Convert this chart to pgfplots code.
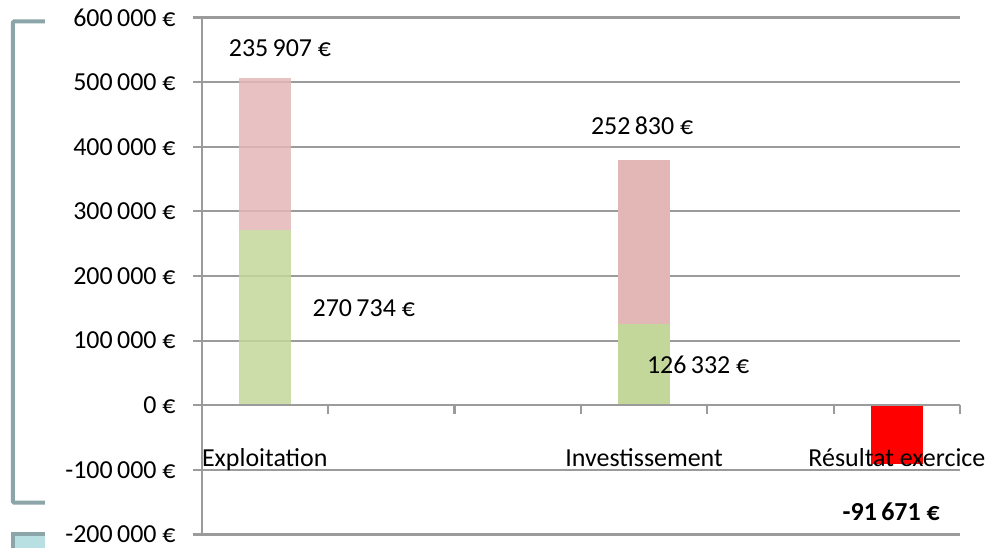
\documentclass[border=0pt]{standalone}
\usepackage{fontspec}
\setmainfont{Carlito}
\usepackage{pgfplots}
\pgfplotsset{compat=1.18}
\definecolor{grn}{RGB}{196,215,155}
\definecolor{pnk}{RGB}{228,183,183}
\definecolor{gridgray}{RGB}{155,155,155}
\definecolor{bracketc}{RGB}{139,165,168}
\definecolor{cyanc}{RGB}{184,224,226}
\begin{document}
\fontsize{13bp}{15bp}\selectfont
\begin{tikzpicture}
\draw[bracketc, line width=2bp, rounded corners=0.5bp] (-78.5bp,257bp) -- (-94.5bp,257bp) -- (-94.5bp,16bp) -- (-78.5bp,16bp);
\fill[cyanc] (-94.5bp,-7bp) rectangle (-78.5bp,0bp);
\draw[bracketc, line width=2bp] (-94.5bp,-7bp) -- (-94.5bp,0bp) -- (-78.5bp,0bp);
\begin{axis}[
  set layers=standard,
  at={(0,0)}, anchor=south west,
  scale only axis, width=380bp, height=259bp,
  xmin=-0.5, xmax=5.5, ymin=-200000, ymax=600000,
  axis x line=middle, axis y line=left,
  axis line style={-, draw=gridgray, line width=1.1bp},
  hide obscured x ticks=false, hide obscured y ticks=false,
  scaled y ticks=false,
  ybar stacked, bar width=26bp,
  tick align=outside, major tick length=4.5bp,
  tick style={draw=gridgray, line width=1.1bp},
  xtick={-0.5,0.5,1.5,2.5,3.5,4.5,5.5},
  xticklabels={},
  extra x ticks={0,3,5},
  extra x tick labels={Exploitation,Investissement,Résultat exercice},
  extra x tick style={major tick length=0pt, grid=none, xticklabel style={anchor=base, yshift=-30.75bp}},
  ytick={-200000,-100000,0,100000,200000,300000,400000,500000,600000},
  yticklabels={-200\,000 €,-100\,000 €,0 €,100\,000 €,200\,000 €,300\,000 €,400\,000 €,500\,000 €,600\,000 €},
  yticklabel style={xshift=-4bp},
  ymajorgrids, grid style={draw=gridgray, line width=1.1bp},
  clip=false,
]
\addplot[fill=grn, fill opacity=0.85, draw=none, on layer=axis grid] coordinates {(0,270734) (3,0) (5,0)};
\addplot[fill=grn, draw=none, on layer=axis grid] coordinates {(0,0) (3,126332) (5,0)};
\addplot[fill=pnk, fill opacity=0.85, draw=none, on layer=axis grid] coordinates {(0,235907) (3,0) (5,0)};
\addplot[fill=pnk, draw=none, on layer=axis grid] coordinates {(0,0) (3,252830) (5,0)};
\addplot[fill=red, draw=none, on layer=axis grid] coordinates {(0,0) (3,0) (5,-91671)};
\node at (axis cs:0.120,552895) {235\,907 €};
\node at (axis cs:0.783,150579) {270\,734 €};
\node at (axis cs:2.985,433204) {252\,830 €};
\node at (axis cs:3.428,61776) {126\,332 €};
\node at (axis cs:4.955,-164479) {\textbf{-91\,671 €}};
\end{axis}
\path[use as bounding box] (-101bp,-6.5bp) rectangle (396bp,267.5bp);
\end{tikzpicture}
\end{document}
